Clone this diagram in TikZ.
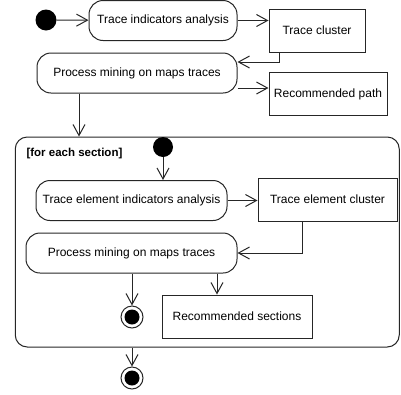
\documentclass[tikz,border=0pt]{standalone}
\usepackage{fontspec}
\setmainfont{Liberation Sans}
\usetikzlibrary{arrows.meta,calc}

\begin{document}
\begin{tikzpicture}[x=1pt,y=-1pt]

\tikzstyle{activity} = [draw=black!85, rounded corners=14pt, line width=1pt, minimum height=40pt,
inner sep=2pt, font=\fontsize{12}{14}\selectfont]
\tikzstyle{object} = [draw=black!85, line width=1pt, minimum height=43pt, inner sep=2pt,
font=\fontsize{12}{14}\selectfont]
\tikzstyle{initial} = [circle, fill=black, minimum size=21pt, inner sep=0pt]
\tikzstyle{final} = [circle, draw=black!85, line width=1pt, minimum size=22pt, inner sep=0pt,
path picture={\fill (path picture bounding box.center) circle (7.5pt);}]
\tikzstyle{flow} = [draw=black!85, line width=1pt, -{Straight Barb[length=11pt,width=12pt]}]

\useasboundingbox (0,0) rectangle (401,394);

% upper flow
\node [initial] (start1) at (46,20) {};
\node [activity, minimum width=148pt] (indic) at (163,20.5) {Trace indicators analysis};
\node [object, minimum width=96pt] (cluster) at (317,30.5) {Trace cluster};
\node [activity, minimum width=200pt] (mining) at (137,73) {Process mining on maps traces};
\node [object, minimum width=118pt] (path) at (328,94) {Recommended path};

% loop region
\node [draw=black!85, line width=1pt, rounded corners=12pt, minimum width=384pt, minimum height=210pt,
inner sep=0pt] (loop) at (207.25,242) {};
\node [anchor=west, font=\fontsize{11.5}{13}\selectfont\bfseries] (guard) at (23,153.5) {[for each section]};

\node [initial, minimum size=20pt] (start2) at (163,147) {};
\node [activity, minimum width=191pt] (elemindic) at (131.5,200.5) {Trace element indicators analysis};
\node [object, minimum width=139pt] (elemcluster) at (327.5,199.5) {Trace element cluster};
\node [activity, minimum width=211pt] (elemmining) at (131.5,253) {Process mining on maps traces};
\node [final] (end1) at (132,317) {};
\node [object, minimum width=150pt] (sections) at (237,316.5) {Recommended sections};

\node [final] (end2) at (132,378) {};

\coordinate (bend1) at (279,62);
\coordinate (bend2) at (302,253);

\draw [flow] (start1) -- (indic);
\draw [flow] (indic.east) -- (indic.east -| cluster.west);
\draw [flow] (bend1 |- cluster.south) -- (bend1) -- (bend1 -| mining.east);
\draw [flow] (mining.east |- 0,88) -- (path.west |- 0,88);
\draw [flow] (mining.south -| 79,0) -- (loop.north -| 79,0);

\draw [flow] (start2) -- (start2 |- elemindic.north);
\draw [flow] (elemindic.east) -- (elemindic.east -| elemcluster.west);
\draw [flow] (bend2 |- elemcluster.south) -- (bend2) -- (elemmining.east);
\draw [flow] (elemmining.south -| end1) -- (end1);
\draw [flow] (elemmining.south -| 217,0) -- (sections.north -| 217,0);
\draw [flow] (loop.south -| end2) -- (end2);

\end{tikzpicture}
\end{document}
